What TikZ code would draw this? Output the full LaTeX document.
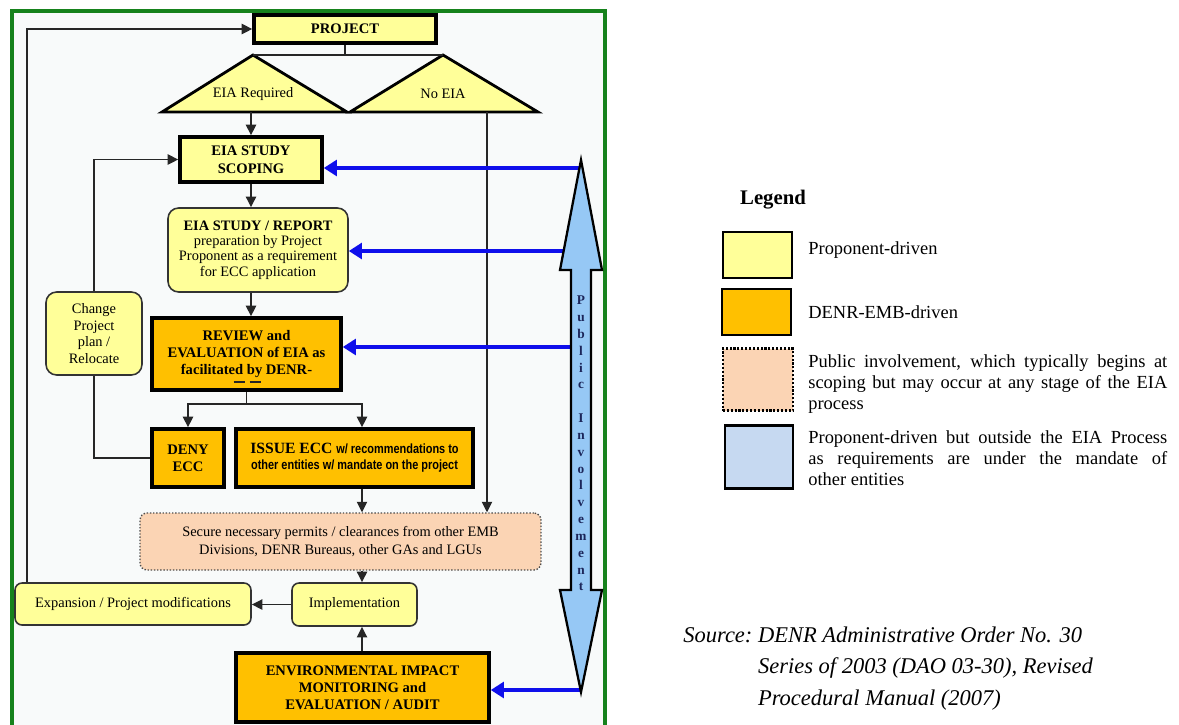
\documentclass[tikz,border=0pt]{standalone}
\usepackage{fontspec}
\setmainfont{Liberation Serif}
\newfontfamily\narrowsans[FakeStretch=0.82]{Liberation Sans}
\usetikzlibrary{arrows.meta, calc}
\definecolor{propYellow}{RGB}{255,255,153}
\definecolor{embOrange}{RGB}{255,192,0}
\definecolor{publicPeach}{RGB}{251,212,180}
\definecolor{outsideBlue}{RGB}{198,217,241}
\definecolor{involveBlue}{RGB}{150,200,245}
\definecolor{linkBlue}{RGB}{15,15,235}
\definecolor{frameGreen}{RGB}{22,130,28}
\definecolor{paneGrey}{RGB}{248,250,250}
\definecolor{letterNavy}{RGB}{28,38,90}

\begin{document}
\begin{tikzpicture}[
    x=0.02cm, y=-0.02cm,
    boxtext/.style={inner sep=1pt, align=center, font=\fontsize{8.2}{9.4}\selectfont},
    propbox/.style={
        boxtext,
        rectangle,
        rounded corners=5pt,
        draw=black!80,
        line width=0.9pt,
        fill=propYellow
    },
    propthick/.style={
        boxtext,
        rectangle,
        draw=black,
        line width=2pt,
        fill=propYellow,
        font=\fontsize{8.3}{10.2}\selectfont\bfseries
    },
    embbox/.style={
        boxtext,
        rectangle,
        draw=black,
        line width=2pt,
        fill=embOrange,
        font=\fontsize{8.3}{9.8}\selectfont\bfseries
    },
    permitbox/.style={
        boxtext,
        rectangle,
        rounded corners=4pt,
        draw=black!70,
        densely dotted,
        line width=0.8pt,
        fill=publicPeach,
        font=\fontsize{8.2}{10.2}\selectfont
    },
    tri/.style={draw=black, line width=1.6pt, line join=miter, fill=propYellow},
    link/.style={draw=black!85, line width=0.85pt},
    conn/.style={link, -{Triangle[length=6pt, width=5.8pt]}},
    involve/.style={draw=linkBlue, line width=2.3pt, -{Triangle[length=7.5pt, width=9pt]}},
    swatch/.style={rectangle, draw=black, line width=1.2pt, minimum width=1.38cm, minimum height=0.92cm},
    legtext/.style={anchor=west, inner sep=0pt, font=\fontsize{10.5}{11.9}\selectfont}
]
    \clip (0,0) rectangle (1179,724);
    \fill[white] (0,0) rectangle (1179,724);

    % flowchart panel
    \draw[frameGreen, fill=paneGrey, line width=2.8pt] (12,11) rectangle (605,760);
    \coordinate (spine) at (362,0);

    \node[propthick, minimum width=3.64cm, minimum height=0.56cm] (project) at (345,29) {PROJECT};

    % the two screening triangles
    \path (253,55) coordinate (reqtop) (162,112) coordinate (reqleft) (347,112) coordinate (reqright);
    \path (443,55) coordinate (notop) (350,112) coordinate (noleft) (538,112) coordinate (noright);
    \draw[tri] (reqtop) -- (reqright) -- (reqleft) -- cycle;
    \draw[tri] (notop) -- (noright) -- (noleft) -- cycle;
    \node[boxtext] (reqtext) at (253,94) {EIA Required};
    \node[boxtext] (notext) at (443,94) {No EIA};
    \coordinate (nofoot) at (487,112);

    \node[propthick, minimum width=2.84cm, minimum height=0.9cm] (scoping) at (251,159.5) {EIA STUDY\\SCOPING};
    \node[propbox, rounded corners=6pt, minimum width=3.6cm, minimum height=1.68cm,
          font=\fontsize{8.2}{8.8}\selectfont] (report) at (258,250)
        {\textbf{EIA STUDY / REPORT}\\preparation by Project\\Proponent as a requirement\\for ECC application};
    \node[embbox, minimum width=3.78cm, minimum height=1.44cm, font=\fontsize{8.3}{9.9}\selectfont\bfseries] (review) at (246.5,354)
        {REVIEW and\\EVALUATION of EIA as\\facilitated by DENR-};
    \node[propbox, rounded corners=6pt, minimum width=1.92cm, minimum height=1.66cm,
          font=\fontsize{8.2}{9.5}\selectfont] (change) at (94,333.5) {Change\\Project\\plan /\\Relocate};
    \node[embbox, minimum width=1.44cm, minimum height=1.16cm] (deny) at (188,458) {DENY\\ECC};
    \node[embbox, minimum width=4.74cm, minimum height=1.16cm, font=\fontsize{8.9}{9.1}\selectfont\bfseries] (issue) at (354.5,458)
        {ISSUE ECC {\narrowsans\fontsize{7.6}{9.1}\selectfont w/ recommendations to}\\
         {\narrowsans\fontsize{7.6}{9.1}\selectfont other entities w/ mandate on the project}};
    \node[permitbox, minimum width=8.02cm, minimum height=1.14cm] (secure) at (340.5,541.5)
        {Secure necessary permits / clearances from other EMB\\Divisions, DENR Bureaus, other GAs and LGUs};
    \node[propbox, rounded corners=4pt, minimum width=2.5cm, minimum height=0.86cm] (implement) at (354.5,604.5) {Implementation};
    \node[propbox, rounded corners=4pt, minimum width=4.72cm, minimum height=0.84cm] (expansion) at (133,604) {Expansion / Project modifications};
    \node[embbox, minimum width=5.06cm, minimum height=1.38cm, font=\fontsize{8.3}{9.6}\selectfont\bfseries] (monitor) at (362.5,687.5)
        {ENVIRONMENTAL IMPACT\\MONITORING and\\EVALUATION / AUDIT};

    % cut-off marks under the review box text
    \draw[link, line width=0.6pt] ($(review.center)+(-13,28)$) -- ++(11,0);
    \draw[link, line width=0.6pt] ($(review.center)+(3,28)$) -- ++(11,0);

    % connectors
    \draw[link] (project.south) -- (project.south |- reqtop);
    \draw[link] (reqtop) -- (notop);
    \draw[conn] (scoping.north |- reqleft) -- (scoping.north);
    \draw[conn] (nofoot) -- (nofoot |- secure.north);
    \draw[conn] (scoping.south) -- (scoping.south |- report.north);
    \draw[conn] (scoping.south |- report.south) -- (scoping.south |- review.north);
    \draw[link] (review.south) -- ++(0,12) coordinate (fork);
    \draw[conn] (fork) -| (deny.north);
    \draw[conn] (fork) -| (spine |- issue.north);
    \draw[link] (deny.west) -| (change.south);
    \draw[conn] (change.north) |- (scoping.west);
    \draw[conn] (spine |- issue.south) -- (spine |- secure.north);
    \draw[conn] (spine |- secure.south) -- (spine |- implement.north);
    \draw[conn] (spine |- monitor.north) -- (spine |- implement.south);
    \draw[conn] (implement.west) -- (implement.west -| expansion.east);
    \draw[conn] ($(expansion.north west)+(13,0)$) |- (project.west);

    % public involvement
    \coordinate (pi1) at (580,168);
    \coordinate (pi2) at (564,251);
    \coordinate (pi3) at (571,347);
    \coordinate (pi4) at (581,690);
    \draw[involve] (pi1) -- (pi1 -| scoping.east);
    \draw[involve] (pi2) -- (pi2 -| report.east);
    \draw[involve] (pi3) -- (pi3 -| review.east);
    \draw[involve] (pi4) -- (pi4 -| monitor.east);
    \draw[black, line width=1.3pt, fill=involveBlue, line join=miter]
        (581,160) -- (602,270) -- (591,270) -- (591,590) -- (602,590) -- (581,692)
        -- (560,590) -- (571,590) -- (571,270) -- (560,270) -- cycle;
    \node[inner sep=0pt, align=center, text=letterNavy, font=\fontsize{7.6}{9.58}\selectfont\bfseries] (pubtext) at (581,443.5)
        {P\\u\\b\\l\\i\\c\\\mbox{}\\I\\n\\v\\o\\l\\v\\e\\m\\e\\n\\t};

    % legend
    \node[font=\fontsize{11.8}{14}\selectfont\bfseries] (legtitle) at (773,200) {Legend};
    \node[swatch, fill=propYellow] (legprop) at (757.5,255) {};
    \node[legtext] (legproptext) at (808,250) {Proponent-driven};
    \node[swatch, fill=embOrange] (legemb) at (756.5,312) {};
    \node[legtext] (legembtext) at (808,312) {DENR-EMB-driven};
    \node[swatch, fill=publicPeach, densely dotted, minimum width=1.4cm, minimum height=1.24cm] (legpublic) at (758,379.5) {};
    \node[legtext, text width=7.18cm, align=justify] (legpublictext) at (808,384)
        {Public involvement, which typically begins at\linebreak scoping but may occur at any stage of the EIA\linebreak process};
    \node[swatch, fill=outsideBlue, minimum width=1.36cm, minimum height=1.26cm] (legoutside) at (759,457) {};
    \node[legtext, text width=7.18cm, align=justify] (legoutsidetext) at (808,458.5)
        {Proponent-driven but outside the EIA Process\linebreak as requirements are under the mandate of\linebreak other entities};

    % source
    \node[anchor=west, inner sep=0pt, font=\fontsize{12.8}{17.9}\selectfont\itshape] (source) at (683,667.5)
        {\begin{tabular}{@{}l@{}l@{}}
         Source:~ & DENR Administrative Order No. 30\\
                  & Series of 2003 (DAO 03-30), Revised\\
                  & Procedural Manual (2007)
         \end{tabular}};

\end{tikzpicture}
\end{document}
